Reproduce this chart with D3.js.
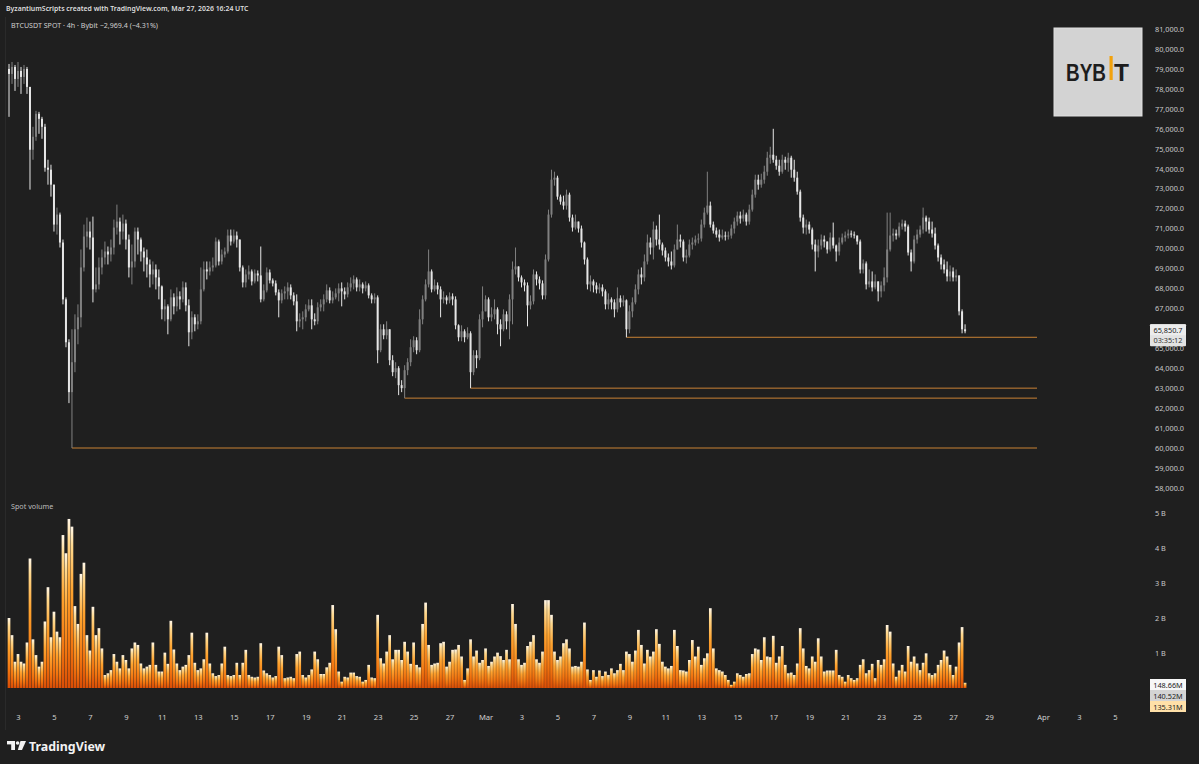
<!DOCTYPE html>
<html><head><meta charset="utf-8">
<script src="https://cdn.jsdelivr.net/npm/d3@7"></script>
<style>html,body{margin:0;padding:0;background:#1f1f1f;overflow:hidden}</style>
</head><body><svg id="c" width="1199" height="764"></svg>
<script>
// ---------- DATA ----------
const startTime = "2026-02-02T12:00:00Z";   // first 4h candle
const candleHours = 4;
const firstOpen = 79000;
const closes = [
78750,79100,78500,78900,78600,79000,78100,74950,75600,76750,
76500,76100,74050,73950,73200,71200,71700,70300,67450,65300,
62800,64300,65950,66550,69050,70600,70850,70550,67950,68200,
69050,69550,69850,69700,70050,71050,71350,70850,71250,70450,
69050,69350,70850,70450,69850,69550,69200,68700,68950,68550,
68100,66950,67100,66450,67550,67100,67600,67450,68050,67150,
65800,66550,66200,66350,67950,68950,68850,69050,69150,70350,
69350,69700,69850,70650,70350,70650,70450,69050,68300,68700,
68850,68350,68750,68650,67450,67900,68800,68400,68250,67800,
67400,67750,67850,68050,67650,67350,66350,66450,66550,66950,
67150,66450,66350,67050,67200,67450,67900,67400,67550,67750,
68000,67850,67700,68050,68250,68450,68050,68200,68000,68150,
67650,67450,67550,64900,65950,65650,65950,64400,63800,64000,
63150,63000,63900,64300,65050,65400,64900,66450,67450,68200,
68850,67950,68150,67950,67450,67550,67400,67600,67450,66150,
65550,65850,65550,65750,63800,64650,64500,66450,66850,67450,
66550,66700,66950,66200,65950,66700,66350,67450,68950,69100,
68550,68300,68150,67150,67350,68700,68450,68250,67650,69450,
71700,73450,73550,72600,72350,72150,72700,71550,71050,71350,
71000,70300,69450,68200,68350,68150,67950,68050,67850,67200,
67450,67300,66950,67500,67300,67400,65950,66850,67300,67950,
68700,68550,69350,70300,70050,70950,70450,70200,69900,69550,
69350,69150,69950,70450,70350,69550,69650,70200,70300,70450,
70500,71200,71800,72150,71200,70900,70700,70550,70650,70600,
70650,71000,71350,71650,71500,71700,71350,71950,72700,73450,
73200,73450,73850,74550,74700,74450,74150,73850,74450,74300,
74550,73950,73550,72850,71550,71050,71200,70950,70200,69850,
70150,70450,70350,69950,70550,70150,69850,70300,70550,70650,
70750,70700,70650,70350,68950,69250,68200,68350,68050,68350,
67850,68150,68550,69950,70650,70750,70650,71100,71250,71100,
69800,69350,70450,70700,70950,71550,71350,70950,70750,70150,
69550,69200,68950,68600,68850,68550,68650,66850,65950,65850.7
];
const highs = [
79250,79350,79200,79350,79100,79200,79100,78100,76100,76900,
76850,76600,76250,74450,74200,73200,72050,71800,70450,67550,
65450,65950,66700,67200,69950,71200,71550,71350,71600,69050,
69550,69950,70350,70100,70450,71450,72200,71550,71700,71450,
70700,70200,71050,71050,70550,70050,69950,69450,69350,69200,
68950,68150,67450,67200,67950,67750,68050,67850,68350,68300,
67450,66850,66700,66700,69050,69350,69350,69350,69550,70550,
70450,69950,70050,70950,70950,70950,70850,70450,69150,68950,
69150,68950,68950,68900,70100,68200,69050,68950,68500,68400,
67950,67950,68100,68300,68200,67800,67700,66750,66850,67200,
67450,67450,66750,67300,67450,67700,68200,68050,67850,68000,
68250,68300,68050,68300,68550,68650,68550,68450,68300,68350,
68250,67750,67750,67650,66200,66200,66350,65800,64650,64300,
64100,63400,64150,64500,65450,65600,65550,66950,67650,68450,
69950,68950,68450,68300,68100,67850,67650,67800,67750,67600,
66200,66150,65950,66050,65850,64900,64900,66700,68100,67650,
67550,67050,67450,67050,66450,66950,66850,67700,69350,70050,
69050,68650,68450,68300,67650,68950,68850,68600,68400,69700,
71950,73950,73850,73650,72700,72650,72950,72800,71700,71700,
71350,71150,70350,69550,68650,68450,68300,68250,68200,67950,
67750,67550,67450,68050,67650,67650,67450,67150,67550,68200,
68950,69050,69700,70700,70550,71350,71150,71700,70300,70050,
69750,69850,70200,71200,70700,70450,69950,70450,70550,70650,
70750,71450,72050,73850,72350,71350,71050,70950,70950,70850,
70850,71200,71550,71850,71850,71950,71800,72200,72950,73700,
73700,73750,74150,74850,75100,76000,74650,74450,74700,74600,
74800,74650,74450,73850,72950,71700,71450,71350,71050,70450,
70450,70700,70650,70300,70800,71300,70200,70550,70750,70850,
70950,70900,70850,70650,70450,69450,69350,68950,68850,68700,
68350,68350,69050,71800,71800,71000,70950,71300,71450,71400,
71200,69950,70650,70950,71150,72050,71650,71550,71350,71050,
70250,69700,69450,69350,69150,69050,68950,68650,66950,66200
];
const lows = [
76600,78250,77900,78100,77750,78250,77750,72950,74450,75400,
75750,75500,73850,73200,72600,70850,70700,70050,67200,65050,
62250,60000,63800,65200,66050,68850,70050,69950,67300,67800,
67950,68700,69200,69200,69350,69700,70700,70200,70450,69950,
68550,68200,69050,69700,69350,68850,68550,68050,68200,67950,
67450,66450,66350,65700,66350,66700,66850,66950,67300,66850,
65100,65450,65850,65950,66200,67850,68450,68650,68850,69050,
69150,69200,69550,69750,70150,70250,70050,68850,68050,68050,
68450,68150,68250,68350,67300,67350,67800,68250,68100,67650,
66550,67250,67450,67450,67450,67150,65850,66050,65950,66350,
66850,65950,66150,66200,66850,66850,67300,67250,67250,67450,
67350,67100,67450,67550,67850,67950,67850,67850,67750,67850,
67500,67250,67250,64250,64800,65450,65450,64150,63600,63500,
62650,62800,62500,63650,64100,64800,64700,64800,66200,67350,
68050,67800,67850,67700,66550,67250,67200,67250,67150,65950,
65350,65350,65300,65450,63000,63650,64000,64400,66050,66850,
66350,66350,66450,65700,65100,65850,65950,65450,66200,68700,
68350,68050,67850,66100,66950,67200,68150,67950,67450,67450,
69350,71550,73150,72450,72200,71950,71950,71350,70850,70950,
70800,70050,69200,67950,67850,67800,67750,67750,67600,66950,
66950,66950,66550,66800,67050,67100,65550,65750,66550,67200,
67700,68200,68350,69200,69700,69450,70150,69950,69650,69350,
69100,68950,69050,69950,70050,69350,69250,69550,69950,70150,
70250,70350,71050,71700,71050,70750,70550,70350,70450,70400,
70450,70500,70750,71150,71250,71350,71150,71200,71850,72550,
72950,73050,73250,73650,74250,74300,73950,73650,73750,73950,
73850,73550,73350,72700,71350,70750,70700,70750,69950,68850,
69550,69950,70050,69750,69850,70000,69350,69650,70200,70350,
70500,70550,70500,70200,68750,68750,67950,68050,67850,67950,
67350,67550,67850,68300,69850,70350,70450,70550,70950,70850,
69650,68850,69250,70250,70550,70750,70850,70750,70550,69950,
69350,68950,68750,68350,68350,68350,68350,66650,65750,65750
];
// spot volume, billions
const volumes = [
2.00,1.51,0.75,0.97,0.75,0.70,1.30,3.70,1.39,0.94,
0.61,0.75,1.90,2.88,1.45,2.18,1.61,1.45,4.37,3.85,
4.83,4.61,2.34,1.83,3.26,3.58,1.51,1.07,2.32,1.51,
1.71,1.13,0.37,0.42,0.51,0.97,0.75,0.56,0.94,0.80,
0.56,1.13,1.30,1.23,0.70,0.56,0.61,0.66,1.30,0.66,
0.47,0.47,1.01,0.69,1.92,1.10,0.70,0.51,0.61,0.66,
0.94,1.58,0.72,0.51,0.56,0.82,1.58,0.70,0.42,0.34,
0.37,0.70,1.18,0.37,0.34,0.37,0.72,0.37,0.72,1.09,
0.37,0.32,0.30,0.32,1.28,0.50,0.42,0.37,0.30,0.34,
1.18,0.94,0.28,0.30,0.32,0.28,0.97,1.04,0.37,0.30,
0.37,0.53,1.04,0.82,0.40,0.40,0.59,0.72,2.37,1.68,
0.47,0.18,0.32,0.30,0.44,0.44,0.34,0.32,0.18,0.23,
0.66,0.30,0.28,2.09,0.85,0.70,1.04,1.51,0.82,1.09,
1.09,0.80,1.32,1.04,0.69,1.30,0.66,0.59,1.83,2.44,
1.23,0.66,0.70,0.72,1.28,1.32,0.61,0.75,1.09,1.10,
1.23,0.90,0.23,0.56,1.39,0.90,1.07,0.72,0.80,1.13,
0.63,0.75,0.90,1.01,0.91,0.80,1.09,0.82,2.40,1.83,
0.82,0.66,0.72,1.20,1.32,1.51,0.82,0.72,1.04,2.51,
2.51,2.09,1.04,0.80,0.90,1.28,1.39,1.13,0.61,0.63,
0.61,0.75,1.87,0.53,0.23,0.51,0.32,0.50,0.34,0.47,
0.37,0.56,0.42,0.51,0.69,0.51,1.04,0.97,0.75,1.07,
1.66,1.23,0.70,1.09,0.90,1.04,1.68,1.26,0.75,0.61,
0.56,0.63,1.66,1.20,0.51,0.50,0.47,0.80,1.37,0.90,
1.18,0.66,0.85,0.99,2.28,1.13,0.56,0.51,0.47,0.37,
0.23,0.09,0.18,0.42,0.37,0.32,0.40,0.42,0.97,1.13,
1.10,0.80,1.45,0.90,0.88,1.49,0.72,0.90,1.20,0.66,
0.42,0.44,0.37,0.70,1.71,1.13,0.63,0.56,0.90,0.75,
1.42,0.90,0.47,0.50,0.50,0.50,1.09,0.37,0.32,0.18,
0.37,0.28,0.23,0.28,0.66,0.82,0.42,0.51,0.69,0.28,
0.80,0.66,0.82,1.80,1.61,0.70,0.32,0.50,0.66,0.47,
1.20,0.75,0.90,0.70,0.51,0.72,0.99,0.42,0.37,0.42,
0.66,0.80,1.07,0.90,0.66,0.37,0.61,1.30,1.74,0.1487
];
// support levels: price and the candle index they start from
const levelPrices = [60000, 62500, 63000, 65550];
const levelStartIdx = [21, 132, 154, 206];
const levelEnd = "2026-03-31T16:00:00Z";

const priceTicks = [58000,59000,60000,61000,62000,63000,64000,65000,67000,68000,69000,70000,71000,72000,73000,74000,75000,76000,77000,78000,79000,80000,81000];
const volTicks = [1,2,3,4,5];
const xTickDates = ["2026-02-03","2026-02-05","2026-02-07","2026-02-09","2026-02-11","2026-02-13","2026-02-15","2026-02-17","2026-02-19","2026-02-21","2026-02-23","2026-02-25","2026-02-27","2026-03-01","2026-03-03","2026-03-05","2026-03-07","2026-03-09","2026-03-11","2026-03-13","2026-03-15","2026-03-17","2026-03-19","2026-03-21","2026-03-23","2026-03-25","2026-03-27","2026-03-29","2026-04-01","2026-04-03","2026-04-05"];
const xTickLabels = ["3","5","7","9","11","13","15","17","19","21","23","25","27","Mar","3","5","7","9","11","13","15","17","19","21","23","25","27","29","Apr","3","5"];
const lastPrice = 65850.7;
const countdown = "03:35:12";
const volLegend = ["148.66M","140.52M","135.31M"];
const headerText = "ByzantiumScripts created with TradingView.com, Mar 27, 2026 16:24 UTC";
const symbolText = "BTCUSDT SPOT · 4h · Bybit  \u22122,969.4 (\u22124.31%)";

// ---------- CHART ----------
const FONT = "'Noto Sans', 'Liberation Sans', sans-serif";
const svg = d3.select("#c");
svg.append("rect").attr("width",1199).attr("height",764).attr("fill","#1f1f1f");

const x = d3.scaleUtc()
  .domain([new Date("2026-02-03T00:00:00Z"), new Date("2026-04-01T00:00:00Z")])
  .range([18, 1043]);
const y = d3.scaleLinear().domain([60000, 80000]).range([448, 49]);
const yv = d3.scaleLinear().domain([0, 5]).range([688, 513]);

const t0 = new Date(startTime).getTime();
const n = closes.length;
const candles = d3.range(n).map(i => {
  const o = i === 0 ? firstOpen : closes[i-1];
  const c = closes[i];
  return {
    t: new Date(t0 + i*candleHours*3600e3),
    o, c,
    h: Math.max(highs[i], o, c),
    l: Math.min(lows[i], o, c),
    v: volumes[i] || 0
  };
});

// pane border
svg.append("line").attr("x1",5.5).attr("x2",5.5).attr("y1",17).attr("y2",730)
  .attr("stroke","#2a2a2a");

// gradient for volume
const defs = svg.append("defs");
const g = defs.append("linearGradient").attr("id","vg").attr("x1",0).attr("y1",0).attr("x2",0).attr("y2",1);
[[0,"#fff6e8"],[0.12,"#ffd98f"],[0.4,"#ffa32e"],[0.75,"#f2740f"],[1,"#d94c05"]].forEach(s=>
  g.append("stop").attr("offset",s[0]).attr("stop-color",s[1]));

// volume bars
svg.append("g").selectAll("rect").data(candles).join("rect")
  .attr("x", d => x(d.t) - 1.35)
  .attr("width", 2.7)
  .attr("y", d => yv(d.v))
  .attr("height", d => Math.max(0.5, yv(0) - yv(d.v)))
  .attr("fill","url(#vg)");

// support lines
const lv = svg.append("g");
levelPrices.forEach((p, k) => {
  lv.append("line")
    .attr("x1", x(candles[levelStartIdx[k]].t)).attr("x2", x(new Date(levelEnd)))
    .attr("y1", y(p)).attr("y2", y(p))
    .attr("stroke","#c98235").attr("stroke-width",1);
});

// candles
const UP = "#808080", DOWN = "#e6e6e6";
const cg = svg.append("g");
cg.selectAll("rect.w").data(candles).join("rect").attr("class","w")
  .attr("x", d => x(d.t) - 0.5).attr("width", 1)
  .attr("y", d => y(d.h)).attr("height", d => Math.max(1, y(d.l) - y(d.h)))
  .attr("fill", d => d.c >= d.o ? UP : DOWN);
cg.selectAll("rect.b").data(candles).join("rect").attr("class","b")
  .attr("x", d => x(d.t) - 1).attr("width", 2)
  .attr("y", d => y(Math.max(d.o, d.c)))
  .attr("height", d => Math.max(1, Math.abs(y(d.o) - y(d.c))))
  .attr("fill", d => d.c >= d.o ? UP : DOWN);

// price axis
const pa = svg.append("g").attr("transform","translate(1153,0)")
  .call(d3.axisRight(y).tickValues(priceTicks).tickFormat(d3.format(",.1f")).tickSize(0).tickPadding(2));
pa.select(".domain").remove();
pa.selectAll("text").attr("fill","#c9c9c9").style("font-family",FONT).style("font-size","7.3px");

// volume axis
const va = svg.append("g").attr("transform","translate(1153,0)")
  .call(d3.axisRight(yv).tickValues(volTicks).tickFormat(d => d + " B").tickSize(0).tickPadding(2));
va.select(".domain").remove();
va.selectAll("text").attr("fill","#c9c9c9").style("font-family",FONT).style("font-size","7.3px");

// time axis
const xa = svg.append("g").attr("transform","translate(0,713)")
  .call(d3.axisBottom(x).tickValues(xTickDates.map(s => new Date(s + "T00:00:00Z")))
    .tickFormat((d,i) => xTickLabels[i]).tickSize(0).tickPadding(2));
xa.select(".domain").remove();
xa.selectAll("text").attr("fill","#cfcfcf").style("font-family",FONT).style("font-size","7.6px");

// last price label
const lp = svg.append("g");
lp.append("rect").attr("x",1150).attr("y",y(lastPrice)-7).attr("width",36).attr("height",22).attr("fill","#e2e2e2").attr("rx",1);
lp.append("rect").attr("x",1150).attr("y",y(lastPrice)-7).attr("width",36).attr("height",11).attr("fill","#ececec").attr("rx",1);
lp.append("text").attr("x",1168).attr("y",y(lastPrice)+1.5).attr("text-anchor","middle")
  .attr("fill","#1c1c1c").style("font-family",FONT).style("font-size","7.3px").text(d3.format(",.1f")(lastPrice));
lp.append("text").attr("x",1168).attr("y",y(lastPrice)+12).attr("text-anchor","middle")
  .attr("fill","#333").style("font-family",FONT).style("font-size","7.3px").text(countdown);

// volume legend labels
const vlFill = ["#f7f7f7","#d4d4d4","#ffe0a8"];
volLegend.forEach((s,k) => {
  svg.append("rect").attr("x",1150).attr("y",679 + k*11).attr("width",36).attr("height",11).attr("fill",vlFill[k]);
  svg.append("text").attr("x",1168).attr("y",687.5 + k*11).attr("text-anchor","middle")
    .attr("fill","#1c1c1c").style("font-family",FONT).style("font-size","7.3px").text(s);
});

// header texts
svg.append("text").attr("x",6).attr("y",11).attr("fill","#dedede")
  .style("font-family",FONT).style("font-size","6.9px").style("font-weight","600").text(headerText);
svg.append("text").attr("x",11).attr("y",28).attr("fill","#cfcfcf")
  .style("font-family",FONT).style("font-size","7.1px").text(symbolText);
svg.append("text").attr("x",11).attr("y",509).attr("fill","#bdbdbd")
  .style("font-family",FONT).style("font-size","7.2px").text("Spot volume");

// Bybit logo
const bl = svg.append("g");
bl.append("rect").attr("x",1054).attr("y",28).attr("width",88).attr("height",88).attr("fill","#d3d3d3").attr("stroke","#e0e0e0");
bl.append("text").attr("x",1066).attr("y",81).attr("fill","#1d1d1d")
  .style("font-family","'Liberation Sans', Arial, sans-serif").style("font-weight","700").style("font-size","23px")
  .attr("textLength",40).attr("lengthAdjust","spacingAndGlyphs").text("BYB");
bl.append("rect").attr("x",1109.5).attr("y",56).attr("width",3.2).attr("height",24).attr("fill","#f2a20c");
bl.append("text").attr("x",1114).attr("y",81).attr("fill","#1d1d1d")
  .style("font-family","'Liberation Sans', Arial, sans-serif").style("font-weight","700").style("font-size","23px")
  .attr("textLength",15).attr("lengthAdjust","spacingAndGlyphs").text("T");

// TradingView logo
const tv = svg.append("g").attr("fill","#f2f2f2");
tv.append("rect").attr("x",7).attr("y",741).attr("width",8).attr("height",3.4);
tv.append("rect").attr("x",11.2).attr("y",741).attr("width",3.8).attr("height",9);
tv.append("circle").attr("cx",17.6).attr("cy",743).attr("r",1.8);
tv.append("path").attr("d","M20.5,741 L26,741 L22,750 L17.8,750 Z");
tv.append("text").attr("x",29).attr("y",750.5).style("font-family",FONT).style("font-weight","700")
  .style("font-size","12.4px").text("TradingView");
</script></body></html>
